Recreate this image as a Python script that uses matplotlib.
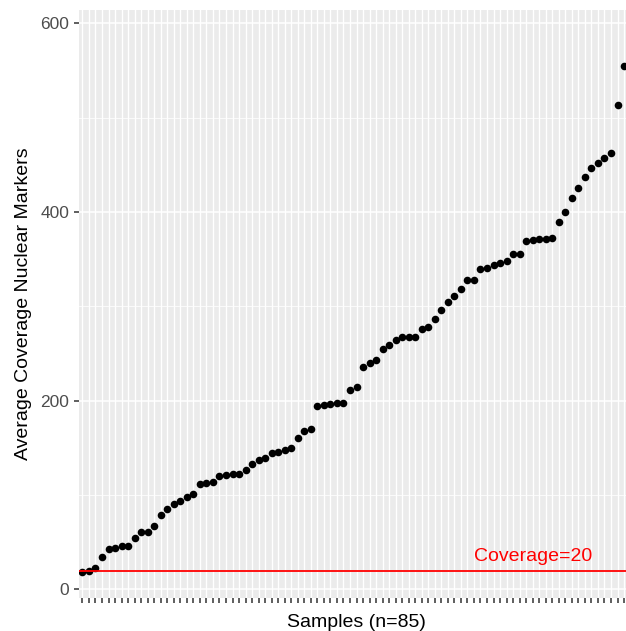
import numpy as np
from matplotlib import pyplot as plt

# average coverage per sample, sorted
coverage = [18.8, 19.6, 23, 34.5, 42.6, 44.3, 46.5, 46.5, 54.6, 60.6,
            60.6, 67.4, 78.5, 85.3, 90.4, 93.8, 98, 101.5, 111.7, 112.6,
            113.4, 120.3, 121, 122, 122.8, 127, 133, 137, 139, 145,
            146, 148, 150, 161, 168, 170, 194.5, 195, 197, 198,
            198, 211.5, 215, 236, 240.5, 243.5, 255, 259, 264, 267,
            267, 267, 275.5, 278, 286.5, 296, 305, 311, 318, 328,
            328, 340, 341, 344, 346, 348, 355, 355, 369, 370,
            371, 371, 372, 389, 400, 415, 425, 437.5, 447, 452,
            457, 463, 513, 555, 586]
samples = np.arange(1, len(coverage) + 1)
threshold = 20
yticks = [0, 200, 400, 600]
minor_yticks = [100, 300, 500]

plt.rcParams['font.family'] = ['Liberation Sans', 'DejaVu Sans']

fig = plt.figure(figsize=(6.26, 6.31), dpi=100)
# panel runs slightly past the right edge, like the cropped original
ax = fig.add_axes([78.5 / 626, 33.5 / 631, 556 / 626, 587.5 / 631])
ax.set_facecolor('#EBEBEB')
for s in ax.spines.values():
    s.set_visible(False)

for y in minor_yticks:
    ax.axhline(y, color='white', lw=0.55, zorder=0)
for y in yticks:
    ax.axhline(y, color='white', lw=1.1, zorder=0)
for x in samples:
    ax.axvline(x, color='white', lw=1.0, zorder=0)

ax.scatter(samples, coverage, s=30, color='black', zorder=3, linewidths=0)
ax.axhline(threshold, color='red', lw=1.3, zorder=4)
ax.text(70, 35, 'Coverage=20', color='red', fontsize=14, ha='center', va='center')

ax.set_xlim(0.4, len(coverage) + 0.6)
ax.set_ylim(-8.5, 614)
ax.set_xticks(samples)
ax.set_xticklabels([])
ax.set_yticks(yticks)
ax.tick_params(axis='both', length=3.5, width=1.1, color='#333333')
ax.tick_params(axis='y', labelsize=12.5, labelcolor='#4D4D4D', pad=3)

ax.set_xlabel('Samples (n=85)', fontsize=14, labelpad=5)
ax.set_ylabel('Average Coverage Nuclear Markers', fontsize=14, labelpad=6)

plt.savefig('out.png', dpi=100)
